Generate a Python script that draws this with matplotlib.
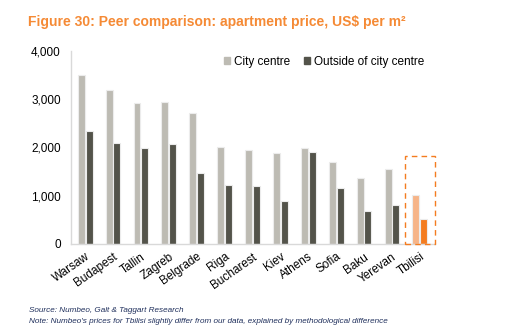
import matplotlib
matplotlib.use("Agg")
import matplotlib.pyplot as plt
from matplotlib.patches import Rectangle, Patch

plt.rcParams['font.family'] = ['Liberation Sans', 'DejaVu Sans']

cities = ["Warsaw", "Budapest", "Tallin", "Zagreb", "Belgrade", "Riga", "Bucharest",
          "Kiev", "Athens", "Sofia", "Baku", "Yerevan", "Tbilisi"]
city_centre = [3500, 3200, 2920, 2950, 2720, 2000, 1950, 1880, 1980, 1700, 1370, 1560, 1020]
outside_centre = [2340, 2090, 1990, 2070, 1470, 1230, 1200, 890, 1900, 1150, 690, 800, 520]
y_ticks = [0, 1000, 2000, 3000, 4000]
y_tick_labels = ["0", "1,000", "2,000", "3,000", "4,000"]
highlight = "Tbilisi"

grey_light = "#BDBBB3"
grey_dark = "#53534A"
orange_light = "#F6B488"
orange = "#F47C20"

fig = plt.figure(figsize=(5.12, 3.34), dpi=100)
ax = fig.add_axes([0.139, 0.27, 0.711, 0.577])

x = list(range(len(cities)))
w = 0.25
off = 0.14
c1 = [orange_light if c == highlight else grey_light for c in cities]
c2 = [orange if c == highlight else grey_dark for c in cities]
ax.bar([i - off for i in x], city_centre, width=w, color=c1, edgecolor="#ECECEC", linewidth=0.8)
ax.bar([i + off for i in x], outside_centre, width=w, color=c2, edgecolor="#ECECEC", linewidth=0.8)

hi = cities.index(highlight)
ax.add_patch(Rectangle((hi - 0.52, 0), 1.05, 1830, fill=False, edgecolor=orange,
                       linestyle=(0, (4, 3)), linewidth=1.0, clip_on=False, zorder=5))

ax.set_xlim(-0.5, 12.55)
ax.set_ylim(0, 4000)
ax.set_yticks(y_ticks)
ax.set_yticklabels(y_tick_labels, fontsize=8.5)
ax.set_xticks(x)
ax.set_xticklabels(cities, rotation=35, ha="right", rotation_mode="anchor", fontsize=8.5)
ax.tick_params(length=0, pad=5)
ax.tick_params(axis="y", pad=7.5)
for s in ["top", "right"]:
    ax.spines[s].set_visible(False)
for s in ["left", "bottom"]:
    ax.spines[s].set_color("#D9D9D9")
    ax.spines[s].set_linewidth(1.0)

handles = [Patch(color=grey_light, label="City centre"),
           Patch(color=grey_dark, label="Outside of city centre")]
ax.legend(handles=handles, loc="upper center", bbox_to_anchor=(0.695, 1.03), ncol=2,
          frameon=False, fontsize=8.5, handlelength=0.5, handleheight=0.5,
          handletextpad=0.3, columnspacing=1.2)

fig.text(0.055, 0.935, "Figure 30: Peer comparison: apartment price, US$ per m²",
         fontsize=10, fontweight="bold", color="#F58A35", va="center")
fig.text(0.057, 0.07, "Source: Numbeo, Galt & Taggart Research", fontsize=5.9,
         style="italic", color="#1F2F5C", va="center")
fig.text(0.057, 0.038, "Note: Numbeo's prices for Tbilisi slightly differ from our data, explained by methodological difference",
         fontsize=5.9, style="italic", color="#1F2F5C", va="center")

fig.savefig("out.png", dpi=100)
